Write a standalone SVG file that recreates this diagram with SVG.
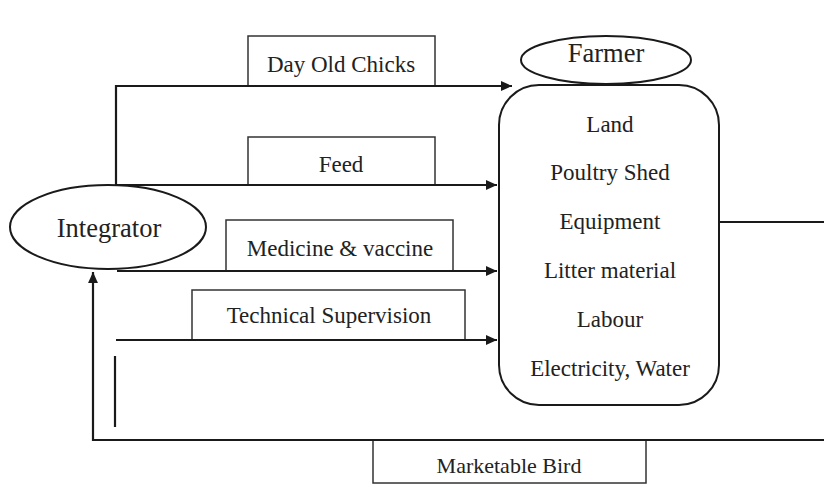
<svg xmlns="http://www.w3.org/2000/svg" width="824" height="485" viewBox="0 0 824 485">
<style>
text{font-family:"Liberation Serif","Times New Roman",serif;fill:#222;text-anchor:middle}
.lbl{font-size:23px}
.big{font-size:26.5px}
.box{fill:#fff;stroke:#333;stroke-width:1.5}
.node{fill:#fff;stroke:#1a1a1a;stroke-width:2}
.ln{fill:none;stroke:#1a1a1a;stroke-width:2.2}
</style>
<defs>
<marker id="ah" viewBox="0 0 10 10" refX="10" refY="5" markerWidth="5" markerHeight="5" orient="auto-start-reverse" markerUnits="strokeWidth">
<path d="M0,0.5 L10,5 L0,9.5 z" fill="#1a1a1a"/>
</marker>
</defs>
<rect width="824" height="485" fill="#fff"/>
<g id="label-doc"><rect class="box" x="248" y="36" width="187" height="50"/><text class="lbl" x="341" y="72">Day Old Chicks</text></g>
<g id="label-feed"><rect class="box" x="248" y="137" width="187" height="48"/><text class="lbl" x="341" y="172">Feed</text></g>
<g id="label-med"><rect class="box" x="226" y="220" width="227" height="51"/><text class="lbl" x="340" y="256">Medicine &amp; vaccine</text></g>
<g id="label-tech"><rect class="box" x="192" y="290" width="273" height="50"/><text class="lbl" x="329" y="323">Technical Supervision</text></g>
<g id="label-bird"><rect class="box" x="373" y="440" width="273" height="43"/><text class="lbl" x="509" y="473" style="font-size:22px">Marketable Bird</text></g>
<g id="connectors">
<path class="ln" d="M116,185 V86 H512" marker-end="url(#ah)"/>
<path class="ln" d="M116,185 H497" marker-end="url(#ah)"/>
<path class="ln" d="M117,271 H497" marker-end="url(#ah)"/>
<path class="ln" d="M116,340 H497" marker-end="url(#ah)"/>
<path class="ln" d="M115,356 V427"/>
<path class="ln" d="M824,440 H93 V272" marker-end="url(#ah)"/>
<path class="ln" d="M719,222 H824"/>
</g>
<g id="integrator"><ellipse class="node" cx="108" cy="227" rx="98" ry="42"/><text class="big" x="109" y="237">Integrator</text></g>
<g id="farmer"><ellipse class="node" cx="606" cy="60" rx="85" ry="24"/><text class="big" x="606" y="62">Farmer</text></g>
<g id="resources"><rect class="node" x="499" y="85" width="220" height="320" rx="40" ry="40"/>
<text class="lbl" x="610" y="132">Land</text>
<text class="lbl" x="610" y="180">Poultry Shed</text>
<text class="lbl" x="610" y="229">Equipment</text>
<text class="lbl" x="610" y="278">Litter material</text>
<text class="lbl" x="610" y="327">Labour</text>
<text class="lbl" x="610" y="376">Electricity, Water</text>
</g>
</svg>
